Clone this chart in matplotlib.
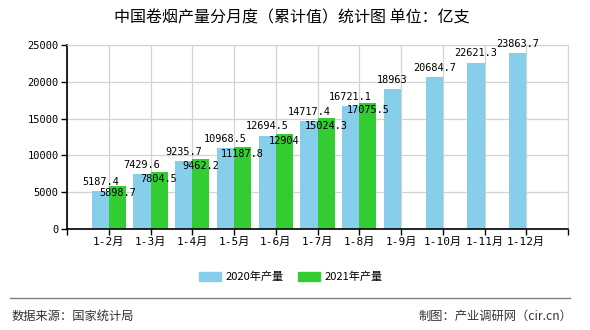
import matplotlib
matplotlib.use("Agg")
import matplotlib.pyplot as plt
from matplotlib.patches import Patch
from matplotlib.lines import Line2D
import numpy as np

plt.rcParams['font.family'] = ['Noto Sans CJK SC', 'DejaVu Sans']

categories = ["1-2月", "1-3月", "1-4月", "1-5月", "1-6月", "1-7月", "1-8月",
              "1-9月", "1-10月", "1-11月", "1-12月"]
values_2020 = [5187.4, 7429.6, 9235.7, 10968.5, 12694.5, 14717.4, 16721.1,
               18963, 20684.7, 22621.3, 23863.7]
values_2021 = [5898.7, 7804.5, 9462.2, 11187.8, 12904, 15024.3, 17075.5]
labels_2020 = ["5187.4", "7429.6", "9235.7", "10968.5", "12694.5", "14717.4", "16721.1",
               "18963", "20684.7", "22621.3", "23863.7"]
labels_2021 = ["5898.7", "7804.5", "9462.2", "11187.8", "12904", "15024.3", "17075.5"]
series_names = ["2020年产量", "2021年产量"]
yticks = [0, 5000, 10000, 15000, 20000, 25000]
title = "中国卷烟产量分月度（累计值）统计图 单位：亿支"
source = "数据来源：国家统计局"
credit = "制图：产业调研网（cir.cn）"

c2020 = "#87CEEB"
c2021 = "#33CC33"
mono = ['DejaVu Sans Mono', 'Noto Sans CJK SC']

fig = plt.figure(figsize=(5.9, 3.3), dpi=100)
ax = fig.add_axes([67/590, 1-229/330, (568-67)/590, (229-45)/330])

x1 = np.arange(1, len(values_2020) + 1)
x2 = np.arange(1, len(values_2021) + 1)
w = 0.41
ax.bar(x1 - w/2, values_2020, width=w, color=c2020, zorder=2)
ax.bar(x2 + w/2, values_2021, width=w, color=c2021, zorder=2)

for xi, v, t in zip(x1, values_2020, labels_2020):
    ax.annotate(t, (xi - w/2, v), xytext=(0, 3), textcoords='offset points',
                ha='center', va='bottom', fontsize=7.4, family=mono, zorder=4)
for xi, v, t in zip(x2, values_2021, labels_2021):
    ax.annotate(t, (xi + w/2, v), xytext=(0, -1.5), textcoords='offset points',
                ha='center', va='top', fontsize=7.4, family=mono, zorder=4)

ax.set_xlim(0, 12)
ax.set_ylim(0, 25000)
ax.set_xticks(np.arange(0, 13))
ax.set_xticklabels([""] + categories + [""], fontsize=8, family=mono)
ax.set_yticks(yticks)
ax.set_yticklabels([str(v) for v in yticks], fontsize=7.5, family=mono)
ax.grid(True, color="#d3d3d3", linewidth=0.9, zorder=0)
ax.set_axisbelow(True)
for s in ['top', 'right']:
    ax.spines[s].set_color("#d3d3d3")
for s in ['left', 'bottom']:
    ax.spines[s].set_color("black")
    ax.spines[s].set_linewidth(1.2)
ax.tick_params(axis='both', length=4, width=1, color='black', pad=2)

fig.text(292/590, 1-18/330, title, ha='center', va='center', fontsize=11.5)

handles = [Patch(color=c2020), Patch(color=c2021)]
fig.legend(handles, series_names, loc='center', bbox_to_anchor=(291/590, 1-277/330),
           ncol=2, frameon=False, fontsize=8, handlelength=2.0, handleheight=0.9,
           columnspacing=1.3, handletextpad=0.4)

fig.add_artist(Line2D([10/590, 570/590], [1-298/330, 1-298/330], color="#808080",
                      linewidth=1, transform=fig.transFigure))
fig.text(12/590, 1-316/330, source, ha='left', va='center', fontsize=8.8, color="#333333")
fig.text(572/590, 1-316/330, credit, ha='right', va='center', fontsize=8.8, color="#333333")

fig.savefig("out.png", dpi=100)
